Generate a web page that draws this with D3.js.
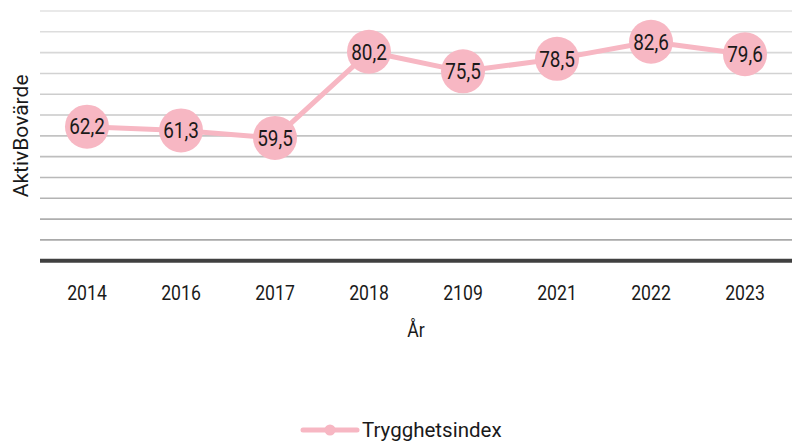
<!DOCTYPE html>
<html>
<head>
<meta charset="utf-8">
<script src="https://cdn.jsdelivr.net/npm/d3@7"></script>
<style>
  body { margin: 0; background: #fff; }
  svg { display: block; }
  text { font-family: Roboto, sans-serif; }
</style>
</head>
<body>
<div id="chart"></div>
<script>
const years = ["2014", "2016", "2017", "2018", "2109", "2021", "2022", "2023"]
const values = [62.2, 61.3, 59.5, 80.2, 75.5, 78.5, 82.6, 79.6]
const yTicks = [30, 35, 40, 45, 50, 55, 60, 65, 70, 75, 80, 85, 90]
const seriesName = "Trygghetsindex"

const CLINE = "#F7B7C3"
const CAXIS = "#404040"
const SQUEEZE = "scale(0.84,1)"   // narrow look of the original font

const width = 792
const height = 444
const margin = {left: 40, right: 0, top: 11, bottom: 183}

const svg = d3.select("#chart")
    .append("svg")
    .attr("width", width)
    .attr("height", height)

const x = d3.scaleBand()
    .domain(years)
    .range([margin.left, width - margin.right])

const y = d3.scaleLinear()
    .domain([30, 90])
    .range([height - margin.bottom - 0.3, margin.top])

// gridlines get darker towards the bottom
const gridColor = d3.scaleLinear().domain([90, 35]).range(["#e2e2e2", "#a9a9a9"])

svg.append("g")
    .selectAll("line")
    .data(yTicks.filter(d => d > 30))
    .join("line")
    .attr("x1", margin.left)
    .attr("x2", width - margin.right)
    .attr("y1", d => y(d))
    .attr("y2", d => y(d))
    .attr("stroke", d => gridColor(d))
    .attr("stroke-width", 1.6)

// x axis
const xAxis = svg.append("g")
    .attr("transform", `translate(0,${y(30)})`)
    .call(d3.axisBottom(x).tickSize(0))
xAxis.select(".domain")
    .attr("stroke", CAXIS)
    .attr("stroke-width", 4)
    .attr("d", `M${margin.left},0H${width - margin.right}`)
xAxis.selectAll("text")
    .attr("font-family", null)
    .attr("y", 39.5)
    .attr("dy", null)
    .attr("transform", SQUEEZE)
    .attr("font-size", 21)
    .attr("fill", "#1a1a1a")

svg.append("g")
    .attr("transform", `translate(${(margin.left + width) / 2},337)`)
    .append("text")
    .attr("transform", SQUEEZE)
    .attr("text-anchor", "middle")
    .attr("font-size", 21)
    .attr("fill", "#1a1a1a")
    .text("År")

svg.append("text")
    .attr("transform", `translate(28,${(y(30) + y(90)) / 2}) rotate(-90)`)
    .attr("text-anchor", "middle")
    .attr("font-size", 21)
    .attr("fill", "#1a1a1a")
    .text("AktivBovärde")

// series
const pts = years.map((d, i) => ({year: d, value: values[i]}))
const cx = d => x(d.year) + x.bandwidth() / 2

svg.append("path")
    .datum(pts)
    .attr("fill", "none")
    .attr("stroke", CLINE)
    .attr("stroke-width", 5)
    .attr("stroke-linejoin", "round")
    .attr("d", d3.line().x(cx).y(d => y(d.value)))

svg.append("g")
    .selectAll("circle")
    .data(pts)
    .join("circle")
    .attr("cx", cx)
    .attr("cy", d => y(d.value))
    .attr("r", 22)
    .attr("fill", CLINE)

svg.append("g")
    .selectAll("g")
    .data(pts)
    .join("g")
    .attr("transform", d => `translate(${cx(d)},${y(d.value)})`)
    .append("text")
    .attr("transform", "scale(0.88,1)")
    .attr("dy", "0.36em")
    .attr("text-anchor", "middle")
    .attr("font-size", 21.5)
    .attr("fill", "#1a1a1a")
    .text(d => d3.format(".1f")(d.value).replace(".", ","))

// legend
const lg = svg.append("g").attr("transform", "translate(301,430)")
lg.append("line")
    .attr("x1", 2).attr("x2", 56)
    .attr("stroke", CLINE)
    .attr("stroke-width", 5)
    .attr("stroke-linecap", "round")
lg.append("circle")
    .attr("cx", 29).attr("r", 5.5)
    .attr("fill", CLINE)
lg.append("text")
    .attr("x", 61)
    .attr("dy", "0.35em")
    .attr("font-size", 20.5)
    .attr("fill", "#1a1a1a")
    .text(seriesName)
</script>
</body>
</html>
